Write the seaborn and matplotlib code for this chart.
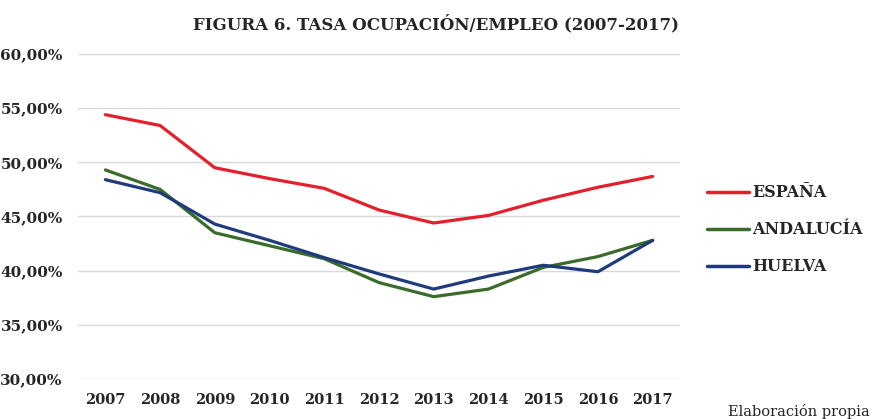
import matplotlib
matplotlib.use("Agg")
import matplotlib.pyplot as plt
import seaborn as sns
import pandas as pd
from matplotlib.ticker import FuncFormatter
from matplotlib.lines import Line2D

years = ["2007", "2008", "2009", "2010", "2011", "2012", "2013", "2014", "2015", "2016", "2017"]
espana = [54.4, 53.4, 49.5, 48.5, 47.6, 45.6, 44.4, 45.1, 46.5, 47.7, 48.7]
andalucia = [49.3, 47.5, 43.5, 42.3, 41.1, 38.9, 37.6, 38.3, 40.3, 41.3, 42.8]
huelva = [48.4, 47.2, 44.3, 42.8, 41.2, 39.7, 38.3, 39.5, 40.5, 39.9, 42.8]
series_names = ["ESPAÑA", "ANDALUCÍA", "HUELVA"]
colors = ["#E3202B", "#3B6B2B", "#1F3B7B"]

rows = []
for name, vals in zip(series_names, [espana, andalucia, huelva]):
    for y, v in zip(years, vals):
        rows.append({"Año": y, "Tasa": v, "Serie": name})
df = pd.DataFrame(rows)

sns.set_style("white")
plt.rcParams["font.family"] = ["DejaVu Serif"]

fig = plt.figure(figsize=(8.75, 4.19), dpi=100)
ax = fig.add_axes([78/875, 1-379/419, (680-78)/875, (379-54)/419])

sns.lineplot(data=df, x="Año", y="Tasa", hue="Serie", hue_order=series_names,
             palette=colors, linewidth=2.3, ax=ax, sort=False, legend=False)

ax.set_ylim(30, 60)
ax.set_xlim(-0.5, len(years) - 0.5)
ax.set_yticks([30, 35, 40, 45, 50, 55, 60])
ax.yaxis.set_major_formatter(FuncFormatter(lambda v, p: f"{v:.2f}".replace(".", ",") + "%"))
ax.grid(axis="y", color="#d9d9d9", linewidth=1.0)
ax.grid(axis="x", visible=False)
for s in ax.spines.values():
    s.set_visible(False)
ax.tick_params(axis="y", length=0, pad=11, labelsize=11)
ax.tick_params(axis="x", length=0, pad=10, labelsize=10.5)
for lab in ax.get_yticklabels() + ax.get_xticklabels():
    lab.set_fontweight("bold")
ax.set_xlabel("")
ax.set_ylabel("")

fig.text(436/875, 1-24/419, "FIGURA 6. TASA OCUPACIÓN/EMPLEO (2007-2017)",
         ha="center", va="center", fontsize=12, fontweight="bold")

handles = [Line2D([0], [0], color=c, linewidth=2.5) for c in colors]
leg = fig.legend(handles, series_names, loc="upper left",
                 bbox_to_anchor=(693/875, 1-170/419), frameon=False,
                 handlelength=2.6, handletextpad=0.2, labelspacing=1.25,
                 prop={"weight": "bold", "size": 11.5, "family": "DejaVu Serif"})

fig.text(728/875, 1-411/419, "Elaboración propia", ha="left", va="center", fontsize=10.5)

fig.savefig("out.png", dpi=100)
